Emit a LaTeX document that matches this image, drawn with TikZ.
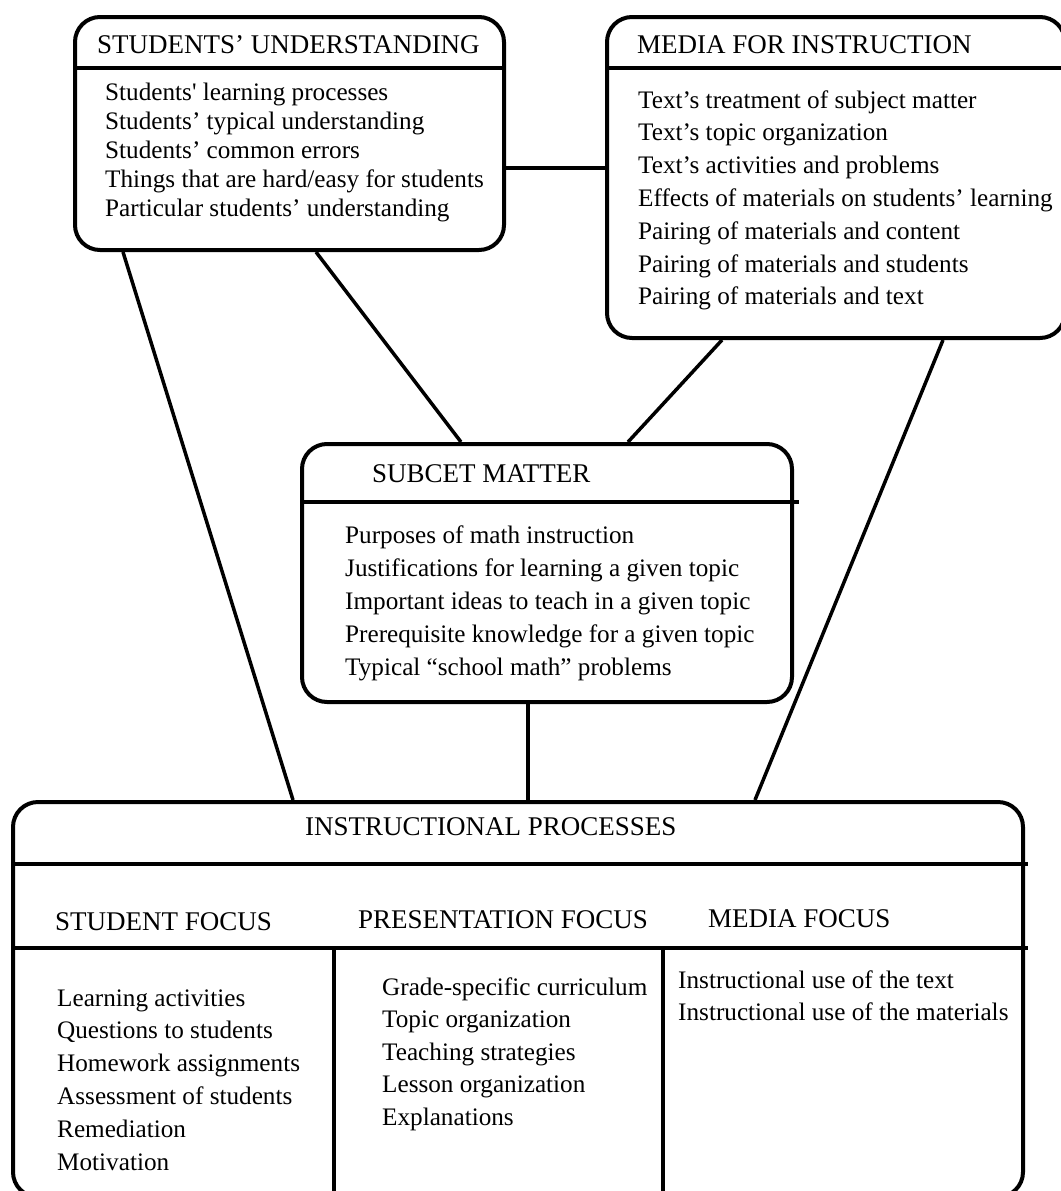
\documentclass[tikz,border=0pt]{standalone}
\usepackage{fontspec}
\setmainfont{Liberation Serif}

\begin{document}
\begin{tikzpicture}[x=1pt,y=-1pt,
  box/.style={draw, line width=4pt, rounded corners=25pt, inner sep=0pt, anchor=north west},
  link/.style={line width=3.5pt},
  rule/.style={line width=4pt},
  head/.style={anchor=base west, inner sep=0pt, font=\fontsize{27}{30}\selectfont},
  items/.style={anchor=base west, inner sep=0pt, align=left, font=\fontsize{25.2}{#1}\selectfont}]
\useasboundingbox (0,0) rectangle (1060,1191);

\node[box, minimum width=429pt, minimum height=233pt] (stu) at (73,15) {};
\node[box, minimum width=458pt, minimum height=321pt] (media) at (605,15) {};
\node[box, minimum width=490pt, minimum height=258pt] (subj) at (300,442) {};
\node[box, minimum width=1010pt, minimum height=395pt] (inst) at (11,800) {};

\draw[rule] (stu.west |- 0,68) -- (stu.east |- 0,68);
\draw[rule] (media.west |- 0,68) -- (media.east |- 0,68);
\draw[rule] (subj.west |- 0,502) -- ([xshift=5pt]subj.east |- 0,502);
\draw[rule] (inst.west |- 0,864) -- ([xshift=3pt]inst.east |- 0,864);
\draw[rule] (inst.west |- 0,948) -- ([xshift=3pt]inst.east |- 0,948);
\draw[rule] (334,948) -- (334,1195);
\draw[rule] (663,948) -- (663,1195);

% lists sit on the baseline of their last line
\node[head] (stuhead) at (97,53) {STUDENTS’ UNDERSTANDING};
\node[items=29.2pt] (stulist) at (105,216.8) {Students\textquotesingle{} learning processes\\
  Students’ typical understanding\\ Students’ common errors\\
  Things that are hard/easy for students\\ Particular students’ understanding};

\node[head] (mediahead) at (637,53) {MEDIA FOR INSTRUCTION};
\node[items=32.8pt] (medialist) at (638,304.8) {Text’s treatment of subject matter\\
  Text’s topic organization\\ Text’s activities and problems\\
  Effects of materials on students’ learning\\ Pairing of materials and content\\
  Pairing of materials and students\\ Pairing of materials and text};

\node[head] (subjhead) at (372,482) {SUBCET MATTER};
\node[items=33pt] (subjlist) at (345,675) {Purposes of math instruction\\
  Justifications for learning a given topic\\ Important ideas to teach in a given topic\\
  Prerequisite knowledge for a given topic\\ Typical “school math” problems};

\node[head] (insthead) at (305,835) {INSTRUCTIONAL PROCESSES};
\node[head] (sfocus) at (55,930) {STUDENT FOCUS};
\node[head] (pfocus) at (358,928) {PRESENTATION FOCUS};
\node[head] (mfocus) at (708,927) {MEDIA FOCUS};

\node[items=32.8pt] (slist) at (57,1170) {Learning activities\\ Questions to students\\
  Homework assignments\\ Assessment of students\\ Remediation\\ Motivation};
\node[items=32.5pt] (plist) at (382,1125) {Grade-specific curriculum\\ Topic organization\\
  Teaching strategies\\ Lesson organization\\ Explanations};
\node[items=32pt] (mlist) at (678,1020) {Instructional use of the text\\
  Instructional use of the materials};

\draw[link] (stu.east |- 0,168) -- (media.west |- 0,168);
\draw[link] ([xshift=50pt]stu.south west) -- ([xshift=282pt]inst.north west);
\draw[link] ([xshift=243pt]stu.south west) -- ([xshift=161pt]subj.north west);
\draw[link] ([xshift=117pt]media.south west) -- ([xshift=328pt]subj.north west);
\draw[link] ([xshift=338pt]media.south west) -- ([xshift=744pt]inst.north west);
\draw[link] ([xshift=228pt]subj.south west) -- ([xshift=517pt]inst.north west);
\end{tikzpicture}
\end{document}
